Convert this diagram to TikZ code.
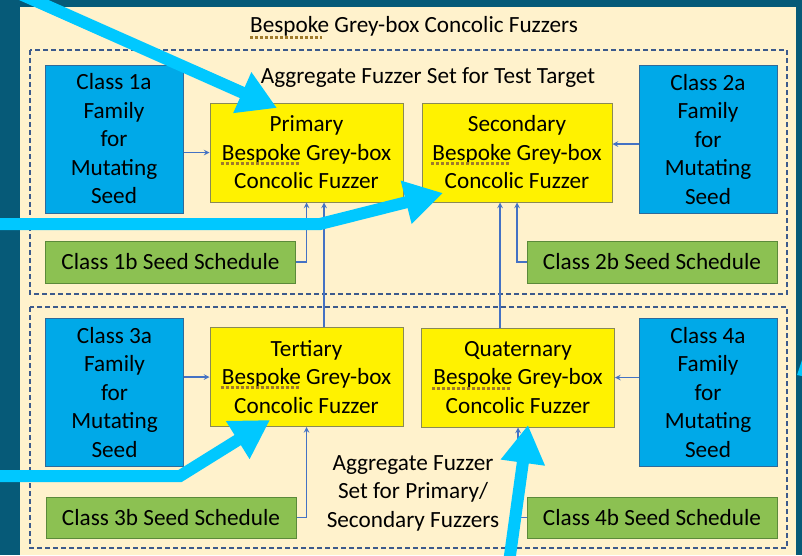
\documentclass[tikz,border=0pt]{standalone}
\usepackage{fontspec}
\setmainfont{Carlito}
\usetikzlibrary{arrows.meta}
\definecolor{slate}{HTML}{065A78}
\definecolor{paper}{HTML}{FFF2CC}
\definecolor{famblue}{HTML}{00A9E8}
\definecolor{famline}{HTML}{2F6A9A}
\definecolor{fuzzline}{HTML}{8A8A55}
\definecolor{schedgreen}{HTML}{8CC152}
\definecolor{schedline}{HTML}{5B8A3A}
\definecolor{wire}{HTML}{4472C4}
\definecolor{setline}{HTML}{3C5A8C}
\definecolor{pointer}{HTML}{00C8FF}
\definecolor{squig}{HTML}{A07A2A}

\begin{document}
\begin{tikzpicture}[x=1pt,y=-1pt,
  every node/.style={font=\fontsize{23.2}{28.5}\selectfont,align=center,inner sep=0pt},
  family/.style={draw=famline,fill=famblue,line width=1pt,minimum width=138pt,minimum height=148pt},
  fuzzer/.style={draw=fuzzline,fill=yellow,line width=1pt,minimum width=193pt,minimum height=99pt},
  schedule/.style={draw=schedline,fill=schedgreen,line width=1pt,minimum width=250pt,minimum height=42pt},
  fuzzset/.style={draw=setline,line width=2pt,dash pattern=on 5pt off 3pt},
  feed/.style={->,>=stealth,draw=wire,line width=1.5pt},
  hint/.style={draw=pointer,line width=12pt,-{Triangle[width=42pt,length=38pt]}},
  spell/.style={draw=squig,line width=3pt,dash pattern=on 3pt off 2pt},
]
\useasboundingbox (0,0) rectangle (802,555);
\fill[slate] (0,0) rectangle (802,555);
\fill[paper] (20,7) rectangle (796,555);

\node (title) at (414,26) {Bespoke Grey-box Concolic Fuzzers};
\draw[fuzzset] (30,50) rectangle (787,294);
\draw[fuzzset] (30,307) rectangle (787,548);
\node (settarget) at (428,78) {Aggregate Fuzzer Set for Test Target};
\node (setmain) at (413,493) {Aggregate Fuzzer\\Set for Primary/\\Secondary Fuzzers};

\node (fam1) at (114,139) [family] {Class 1a\\Family\\for\\Mutating\\Seed};
\node (fam2) at (708,139.5) [family] {Class 2a\\Family\\for\\Mutating\\Seed};
\node (fam3) at (114.5,392.5) [family] {Class 3a\\Family\\for\\Mutating\\Seed};
\node (fam4) at (708,392.5) [family] {Class 4a\\Family\\for\\Mutating\\Seed};

\node (prim) at (306.5,152.5) [fuzzer] {Primary\\Bespoke Grey-box\\Concolic Fuzzer};
\node (sec) at (517,152.5) [fuzzer,minimum width=190pt] {Secondary\\Bespoke Grey-box\\Concolic Fuzzer};
\node (tert) at (306.5,377) [fuzzer] {Tertiary\\Bespoke Grey-box\\Concolic Fuzzer};
\node (quat) at (518,377.5) [fuzzer] {Quaternary\\Bespoke Grey-box\\Concolic Fuzzer};

\node (sch1) at (170.5,262) [schedule] {Class 1b Seed Schedule};
\node (sch2) at (652,262) [schedule] {Class 2b Seed Schedule};
\node (sch3) at (171,517.5) [schedule,minimum height=41pt] {Class 3b Seed Schedule};
\node (sch4) at (652,517.5) [schedule,minimum height=41pt] {Class 4b Seed Schedule};

% spell-check marks under Bespoke
\draw[spell] (250,37) -- (322,37);
\foreach \f in {prim,sec,tert,quat}
  \draw[spell] ([shift={(-86,10.5)}]\f.center) -- ++(78,0);

\draw[feed] (fam1.east |- prim.west) -- (prim.west);
\draw[feed] ([yshift=8.5pt]fam2.west |- sec.east) -- ([yshift=8.5pt]sec.east);
\draw[feed] (fam3.east |- tert.west) -- (tert.west);
\draw[feed] (fam4.west |- quat.east) -- (quat.east);

\draw[feed] (sch1.east) -| (prim.south);
\draw[feed] (sch2.west) -| (sec.south);
\draw[feed] (sch3.east) -| (tert.south);
\draw[feed] (sch4.west) -| (quat.south);
\draw[feed] ([xshift=17.5pt]tert.north) -- ([xshift=17.5pt]prim.south);
\draw[feed] ([xshift=-18pt]quat.north) -- ([xshift=-17pt]sec.south);

% pointers from outside
\coordinate (from1) at (9,-11);
\coordinate (from2) at (-10,224);
\coordinate (from3) at (-10,476);
\coordinate (from4) at (508,570);
\draw[hint] (from1) -- (277,108);
\draw[hint] (from2) -- (320,224) -- (443,193);
\draw[hint] (from3) -- (180,476) -- (270,420);
\draw[hint] (from4) -- (528,425);
\fill[pointer] (797,375) -- (802,360) -- (802,376) -- cycle;
\end{tikzpicture}
\end{document}
